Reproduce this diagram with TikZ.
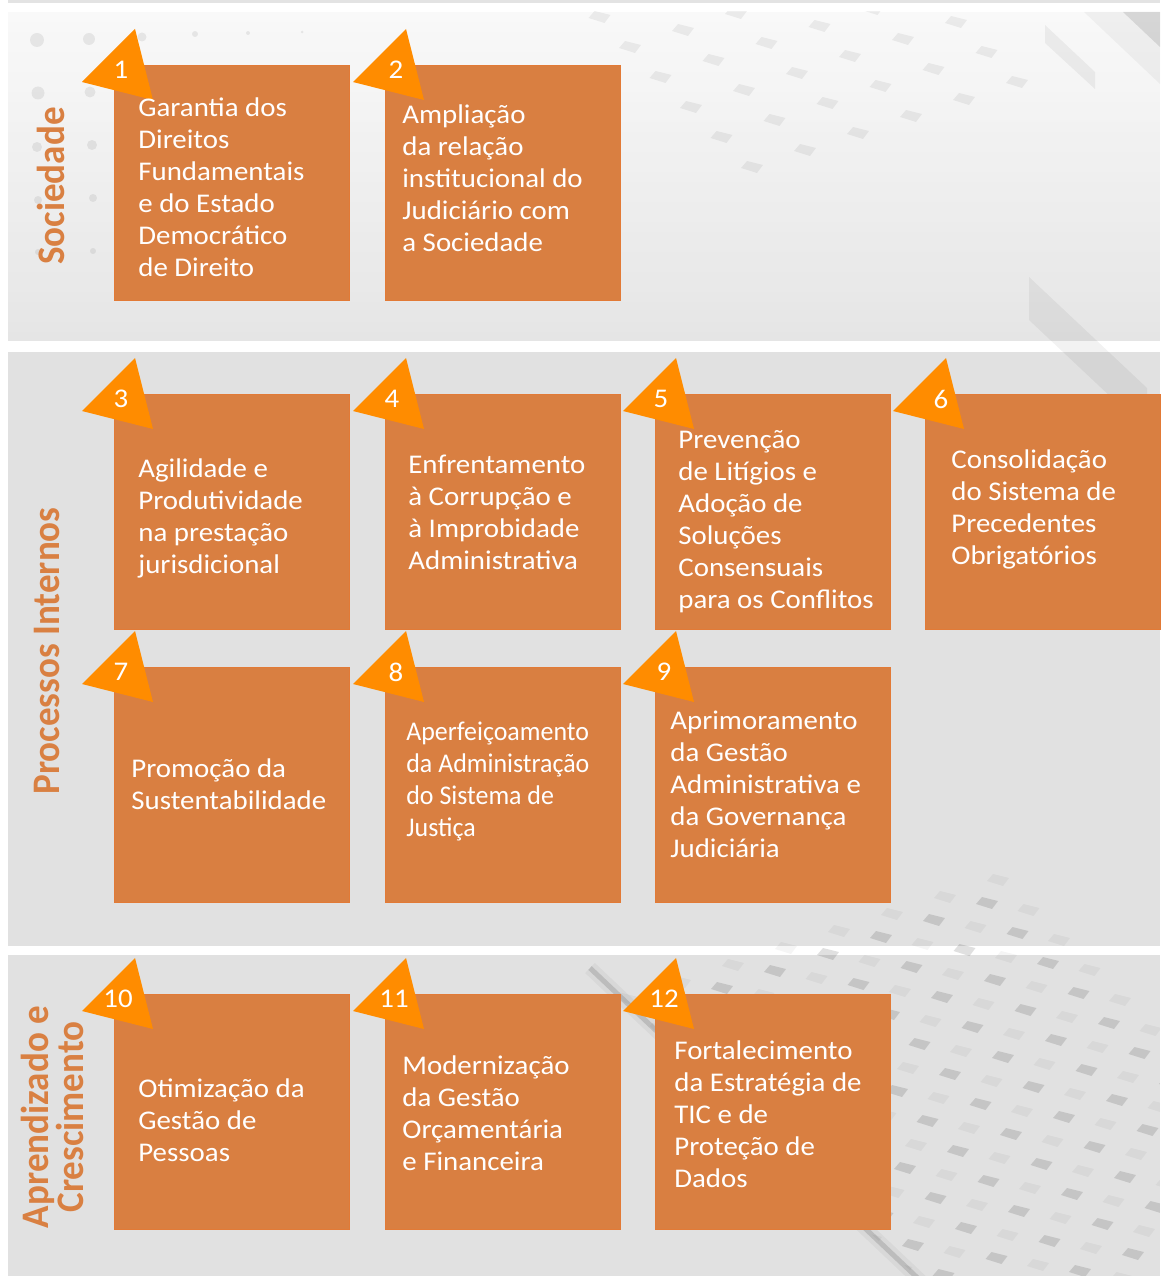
\documentclass[tikz,border=0pt]{standalone}
\usepackage{fontspec}
\setmainfont{Carlito}
\newfontfamily\boxfont[FakeStretch=1.07]{Carlito}
\newfontfamily\tightfont[FakeStretch=0.96]{Carlito}
\newfontfamily\sidefont[FakeStretch=0.95]{Carlito}
\definecolor{boxorange}{HTML}{D97F41}
\definecolor{boxedge}{HTML}{E27A36}
\definecolor{triorange}{HTML}{FF8C00}
\definecolor{panelgray}{HTML}{E1E1E1}
\definecolor{stripgray}{HTML}{E3E3E3}
\definecolor{labelorange}{HTML}{D98042}

\tikzset{every picture/.style={line width=0.75pt}}
\tikzset{
  objbox/.style={anchor=north west, inner sep=0pt, fill=boxorange, draw=boxedge, line width=0.8pt, minimum width=235, minimum height=235},
  badge/.style={fill=triorange},
  numlbl/.style={text=white, inner sep=0pt, font=\boxfont\fontsize{27}{27}\selectfont},
  objtxt/.style={anchor=north west, inner sep=0pt, align=left, text=white, font=\boxfont\fontsize{27}{32}\selectfont, execute at begin node={\rule{0pt}{22pt}}},
  sidelbl/.style={rotate=90, align=center, inner sep=0pt, text=labelorange, font=\sidefont\bfseries\fontsize{39}{35}\selectfont},
  tile/.pic={\path[pic actions] (-11,-1) -- (5,-6) -- (11,2) -- (-5,6) -- cycle;},
}

\begin{document}
\begin{tikzpicture}[x=1pt,y=1pt,yscale=-1,xscale=1]
    \useasboundingbox (0,0) rectangle (1160,1276);
    % panels
    \fill[white] (0,0) rectangle (1160,1276);
    \fill[stripgray] (8,0) rectangle (1160,3);
    \foreach \k in {0,...,32}
      \pgfmathsetmacro\shadeval{2.5+7.5*\k/32}
      \fill[black!\shadeval] (8,{12+10*\k}) rectangle (1160,{min(341,23+10*\k)});
    \fill[panelgray] (8,352) rectangle (1160,946);
    \fill[panelgray] (8,955) rectangle (1160,1276);
    % panel 1 decoration
    \foreach \px/\py/\r in {37/40/7, 89/39/6, 142/37/4.5, 195/34/3, 248/33/2, 302/32/1.5, 38/93/6.5, 90/92/5.5, 37/147/5, 92/145/5, 38/200/4, 93/198/4, 38/252/3, 93/251/3}
      \fill[black, opacity=0.07] (\px,\py) circle (\r);
    \begin{scope}
      \clip (8,12) rectangle (1160,341);
      \foreach \i in {-1,...,4}
        \foreach \j in {0,...,5}
          \pic[fill=black, opacity=0.06] at ({630+30.5*\i+53*\j},{47+30*\i-17*\j}) {tile};
      \fill[black, opacity=0.04] (1084,12) -- (1160,12) -- (1160,84) -- cycle;
      \fill[black, opacity=0.10] (1123,12) -- (1160,12) -- (1160,47) -- cycle;
      \fill[black, opacity=0.05] (1045,25) -- (1095,72) -- (1095,89) -- (1045,43) -- cycle;
    \end{scope}
    \fill[black, opacity=0.05] (1029,277) -- (1147,388) -- (1147,431) -- (1029,320) -- cycle;
    % lower right decoration
    \draw[black, opacity=0.04, line width=14] (590,968) -- (925,1285);
    \draw[black, opacity=0.13, line width=5] (590,968) -- (925,1285);
    \begin{scope}
      \clip (473,860) -- (1160,860) -- (1160,1276) -- (916,1276) -- cycle;
      \foreach \i in {0,...,12}
        \foreach \j in {-12,...,0}{
          \pic[fill=black, opacity=0.12] at ({987+30.5*\i+53*\j},{903+30*\i-17*\j}) {tile};
          \pic[fill=black, opacity=0.04] at ({998+30.5*\i+53*\j},{880+30*\i-17*\j}) {tile};
        }
    \end{scope}
    % objective boxes
    \node[objbox] (b1) at (114,65) {};
    \node[objbox] (b2) at (385,65) {};
    \node[objbox] (b3) at (114,394) {};
    \node[objbox] (b4) at (385,394) {};
    \node[objbox] (b5) at (655,394) {};
    \node[objbox] (b6) at (925,394) {};
    \node[objbox] (b7) at (114,667) {};
    \node[objbox] (b8) at (385,667) {};
    \node[objbox] (b9) at (655,667) {};
    \node[objbox] (b10) at (114,994) {};
    \node[objbox] (b11) at (385,994) {};
    \node[objbox] (b12) at (655,994) {};
    % number badges
    \foreach \b in {b1,b2,b3,b4,b5,b6,b7,b8,b9,b10,b11,b12}
      \fill[badge] (\b.north west) ++(21,-36) -- ++(-53,53) -- ++(71,18) -- cycle;
    \path (b1.north west) ++(7,5) node[numlbl] (n1) {1};
    \path (b2.north west) ++(11,5) node[numlbl] (n2) {2};
    \path (b3.north west) ++(7,5) node[numlbl] (n3) {3};
    \path (b4.north west) ++(7,5) node[numlbl] (n4) {4};
    \path (b5.north west) ++(6,5) node[numlbl] (n5) {5};
    \path (b6.north west) ++(16,5) node[numlbl] (n6) {6};
    \path (b7.north west) ++(7,5) node[numlbl] (n7) {7};
    \path (b8.north west) ++(11,5) node[numlbl] (n8) {8};
    \path (b9.north west) ++(9,5) node[numlbl] (n9) {9};
    \path (b10.north west) ++(4,5) node[numlbl] (n10) {10};
    \path (b11.north west) ++(9,5) node[numlbl] (n11) {11};
    \path (b12.north west) ++(9,5) node[numlbl] (n12) {12};
    % objective texts
    \path (b1.north west) ++(24,32) node[objtxt] (t1) {Garantia dos\\Direitos\\Fundamentais\\e do Estado\\Democrático\\de Direito};
    \path (b2.north west) ++(17,39) node[objtxt] (t2) {Ampliação\\da relação\\institucional do\\Judiciário com\\a Sociedade};
    \path (b3.north west) ++(24,64) node[objtxt] (t3) {Agilidade e\\Produtividade\\na prestação\\jurisdicional};
    \path (b4.north west) ++(23,61) node[objtxt] (t4) {Enfrentamento\\à Corrupção e\\à Improbidade\\Administrativa};
    \path (b5.north west) ++(23,36) node[objtxt] (t5) {Prevenção\\de Litígios e\\Adoção de\\Soluções\\Consensuais\\para os Conflitos};
    \path (b6.north west) ++(26,55) node[objtxt] (t6) {Consolidação\\do Sistema de\\Precedentes\\Obrigatórios};
    \path (b7.north west) ++(17,91) node[objtxt] (t7) {Promoção da\\Sustentabilidade};
    \path (b8.north west) ++(21,55) node[objtxt, font=\tightfont\fontsize{27}{32}\selectfont] (t8) {Aperfeiçoamento\\da Administração\\do Sistema de\\Justiça};
    \path (b9.north west) ++(15,44) node[objtxt] (t9) {Aprimoramento\\da Gestão\\Administrativa e\\da Governança\\Judiciária};
    \path (b10.north west) ++(24,84) node[objtxt] (t10) {Otimização da\\Gestão de\\Pessoas};
    \path (b11.north west) ++(17,61) node[objtxt] (t11) {Modernização\\da Gestão\\Orçamentária\\e Financeira};
    \path (b12.north west) ++(19,46) node[objtxt] (t12) {Fortalecimento\\da Estratégia de\\TIC e de\\Proteção de\\Dados};
    % perspective labels
    \node[sidelbl] (s1) at (51,186) {Sociedade};
    \node[sidelbl] (s2) at (47,651) {Processos Internos};
    \node[sidelbl] (s3) at (52,1117) {Aprendizado e\\Crescimento};
\end{tikzpicture}
\end{document}
